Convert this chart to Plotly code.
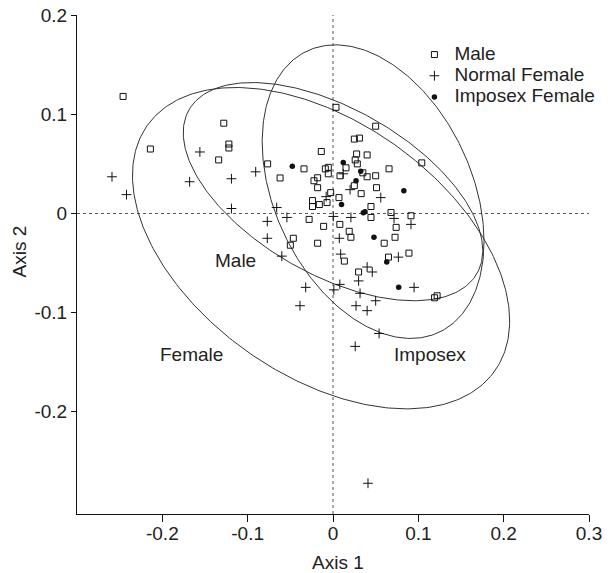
import numpy as np
import plotly.graph_objects as go

# ---------------- data ----------------
male_x = [-0.246, -0.214, -0.128, -0.122, -0.122, -0.134, 0.0035, 0.050, 0.025, 0.031,
          -0.0137, 0.0277, 0.040, 0.026, 0.0285, -0.0766, -0.034, -0.009, -0.0055, -0.0055,
          0.0152, 0.0082, 0.035, 0.040, 0.050, 0.0657, -0.062, -0.0223, -0.018, 0.025,
          -0.018, 0.051, -0.0027, 0.033, 0.007, -0.024, -0.024, -0.016, -0.007, 0.0445,
          0.068, 0.0914, -0.028, 0.0445, -0.011, 0.008, 0.074, 0.019, 0.021, -0.0465,
          0.0727, -0.050, -0.018, 0.060, 0.065, 0.089, 0.0133, 0.030, 0.119, 0.122, 0.104]
male_y = [0.118, 0.065, 0.091, 0.070, 0.066, 0.054, 0.107, 0.088, 0.075, 0.076,
          0.0625, 0.060, 0.059, 0.054, 0.050, 0.050, 0.045, 0.045, 0.0465, 0.040,
          0.046, 0.038, 0.041, 0.037, 0.038, 0.045, 0.0358, 0.033, 0.036, 0.028,
          0.026, 0.026, 0.021, 0.020, 0.016, 0.013, 0.007, 0.009, 0.011, 0.007,
          0.001, -0.0023, -0.006, -0.004, -0.013, -0.011, -0.014, -0.018, -0.024, -0.025,
          -0.024, -0.032, -0.030, -0.030, -0.044, -0.040, -0.048, -0.059, -0.085, -0.083, 0.051]

normal_x = [-0.259, -0.242, -0.156, -0.168, -0.119, -0.119, -0.0906, 0.012, 0.020, -0.008,
            0.056, -0.066, 0.0715, -0.054, 0.0004, 0.021, -0.077, 0.0914, -0.077, 0.0074,
            -0.060, 0.009, 0.0766, 0.040, 0.046, 0.030, -0.032, 0.008, 0.001, 0.095,
            0.0317, 0.050, -0.0387, 0.027, 0.040, 0.054, 0.026, 0.041]
normal_y = [0.037, 0.019, 0.062, 0.032, 0.035, 0.005, 0.042, 0.040, 0.024, 0.017,
            0.016, 0.006, -0.005, -0.004, -0.003, -0.004, -0.008, -0.011, -0.025, -0.025,
            -0.043, -0.041, -0.044, -0.054, -0.059, -0.068, -0.0745, -0.0715, -0.077, -0.0745,
            -0.0805, -0.088, -0.093, -0.093, -0.098, -0.121, -0.134, -0.272]

imposex_x = [-0.0477, 0.012, 0.0325, 0.027, 0.083, 0.010, 0.0355, 0.0375, 0.048, 0.063, 0.077]
imposex_y = [0.0475, 0.0515, 0.0425, 0.033, 0.023, 0.009, 0.0007, 0.0017, -0.024, -0.049, -0.0745]

# ellipses: centre, half-extents along the axes and correlation
ellipse_names = ["Female", "Male", "Imposex"]
ellipse_cx = [-0.014, 0.000, 0.047]
ellipse_cy = [-0.035, 0.022, 0.022]
ellipse_hx = [0.221, 0.1755, 0.130]
ellipse_hy = [0.162, 0.110, 0.148]
ellipse_r = [-0.453, -0.54, -0.34]

label_text = ["Female", "Male", "Imposex"]
label_x = [-0.166, -0.1137, 0.1137]
label_y = [-0.1425, -0.0473, -0.1425]

x_ticks = [-0.2, -0.1, 0, 0.1, 0.2, 0.3]
x_ticklabels = ["-0.2", "-0.1", "0", "0.1", "0.2", "0.3"]
y_ticks = [-0.2, -0.1, 0, 0.1, 0.2]
y_ticklabels = ["-0.2", "-0.1", "0", "0.1", "0.2"]

X_RANGE = [-0.3, 0.3]
Y_RANGE = [-0.303, 0.2001]

FONT = "Liberation Sans, Arial, sans-serif"
TXT = "#222222"
INK = "#333333"


def legend_name(s):
    return '<span style="font-size:19px">' + s + "</span>"


fig = go.Figure()

t = np.linspace(0, 2 * np.pi, 361)
for name, cx, cy, hx, hy, r in zip(ellipse_names, ellipse_cx, ellipse_cy,
                                   ellipse_hx, ellipse_hy, ellipse_r):
    ex = cx + hx * np.cos(t)
    ey = cy + hy * (r * np.cos(t) + np.sqrt(1 - r * r) * np.sin(t))
    fig.add_trace(go.Scatter(x=ex, y=ey, mode="lines", showlegend=False,
                             line=dict(color=INK, width=1), hoverinfo="skip",
                             name=name + " ellipse"))

fig.add_trace(go.Scatter(x=male_x, y=male_y, mode="markers", name=legend_name("Male"),
                         marker=dict(symbol="square-open", size=6, color="#111",
                                     line=dict(width=1, color="#111"))))
fig.add_trace(go.Scatter(x=normal_x, y=normal_y, mode="markers",
                         name=legend_name("Normal Female"),
                         marker=dict(symbol="cross-thin", size=7, color="#111",
                                     line=dict(width=1, color="#111"))))
fig.add_trace(go.Scatter(x=imposex_x, y=imposex_y, mode="markers",
                         name=legend_name("Imposex Female"),
                         marker=dict(symbol="circle", size=5.5, color="#111",
                                     line=dict(width=0))))

# dotted reference lines through the origin
fig.add_shape(type="line", xref="x", yref="paper", x0=0, x1=0, y0=0, y1=1,
              line=dict(color="#555", width=1, dash="dot"), layer="below")
fig.add_shape(type="line", xref="paper", yref="y", x0=0, x1=1, y0=0, y1=0,
              line=dict(color="#555", width=1, dash="dot"), layer="below")

for txt, lx, ly in zip(label_text, label_x, label_y):
    fig.add_annotation(x=lx, y=ly, text=txt, showarrow=False,
                       xanchor="center", yanchor="middle",
                       font=dict(family=FONT, size=19, color=TXT))

# axis titles
fig.add_annotation(xref="paper", yref="paper", x=0.51, y=-0.098, text="Axis 1",
                   xanchor="center", yanchor="middle",
                   showarrow=False, font=dict(family=FONT, size=19, color=TXT))
fig.add_annotation(xref="paper", yref="paper", x=-0.113, y=0.5265, text="Axis 2",
                   xanchor="center", yanchor="middle",
                   textangle=-90, showarrow=False, font=dict(family=FONT, size=19, color=TXT))

axis_common = dict(showgrid=False, zeroline=False, showline=True, linecolor="#111",
                   linewidth=1, ticks="outside", tickcolor="#111", tickwidth=1,
                   tickfont=dict(family=FONT, size=19, color=TXT), mirror=False,
                   automargin=False, ticklabeloverflow="allow")

fig.update_xaxes(range=X_RANGE, tickvals=x_ticks, ticktext=x_ticklabels, ticklen=7,
                 ticklabelstandoff=-5, **axis_common)
fig.update_yaxes(range=Y_RANGE, tickvals=y_ticks, ticktext=y_ticklabels, ticklen=5,
                 **axis_common)

fig.update_layout(
    width=611, height=573,
    margin=dict(l=69, r=30, t=7, b=67, autoexpand=False),
    paper_bgcolor="white", plot_bgcolor="white",
    font=dict(family=FONT, size=19, color=TXT),
    legend=dict(x=0.659, y=0.952, xanchor="left", yanchor="top",
                bgcolor="rgba(0,0,0,0)", font=dict(family=FONT, size=14, color=TXT),
                itemwidth=30, tracegroupgap=0),
    showlegend=True,
)

fig.write_html("out.html")
